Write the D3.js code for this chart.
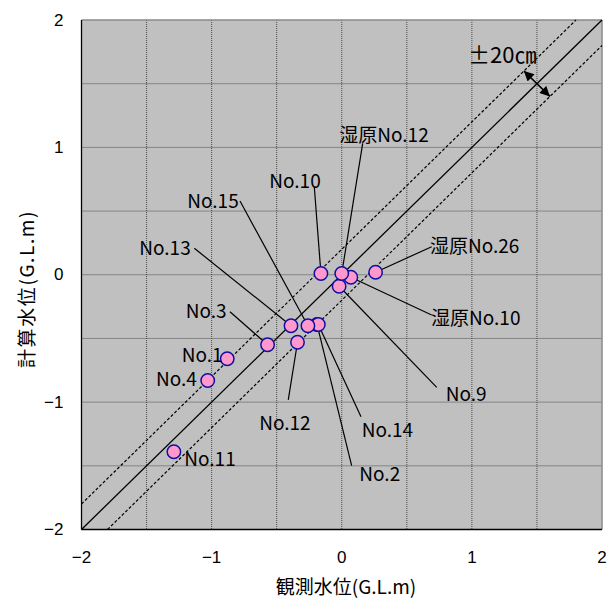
<!DOCTYPE html>
<html>
<head>
<meta charset="utf-8">
<script src="https://cdn.jsdelivr.net/npm/d3@7"></script>
<style>
  body { margin: 0; background: #fff; }
  .lbl { font-family: "Noto Sans CJK JP", "Noto Sans", sans-serif; font-size: 19px; fill: #000; }
  .tick { font-family: "Liberation Sans", Arial, sans-serif; font-size: 17px; fill: #000; }
</style>
</head>
<body>
<div id="chart"></div>
<script>
// station names and water levels (G.L.m)
const names    = ["No.1", "No.2", "No.3", "No.4", "No.9", "No.10", "No.11", "No.12", "No.13", "No.14", "No.15", "湿原No.10", "湿原No.12", "湿原No.26"];
const observed = [-0.88, -0.19, -0.57, -1.03, -0.02, -0.16, -1.29, -0.34, -0.39, -0.18, -0.26, 0.07, 0.00, 0.26];
const computed = [-0.66, -0.39, -0.55, -0.83, -0.09, 0.01, -1.39, -0.53, -0.40, -0.39, -0.40, -0.02, 0.01, 0.02];

// label anchors (data units): text left / middle, and start of leader line
const labelX = [-1.23, 0.135, -1.199, -1.427, 0.799, -0.557, -1.21, -0.634, -1.556, 0.153, -1.187, 0.686, -0.019, 0.678];
const labelY = [-0.622, -1.551, -0.269, -0.805, -0.926, 0.744, -1.433, -1.154, 0.220, -1.205, 0.587, -0.324, 1.110, 0.241];
const leadX  = [null, 0.076, -0.859, null, 0.730, -0.211, null, -0.411, -1.133, 0.148, -0.782, 0.691, 0.161, 0.691];
const leadY  = [null, -1.499, -0.290, null, -0.884, 0.691, null, -0.983, 0.208, -1.114, 0.579, -0.316, 1.032, 0.220];

const ticks = [-2, -1, 0, 1, 2];
const gridStep = 0.5;
const tolerance = 0.2;

const width = 616, height = 603;
const margin = {top: 20, right: 14, bottom: 73.5, left: 81.5};

const svg = d3.select("#chart").append("svg")
    .attr("width", width)
    .attr("height", height);

const x = d3.scaleLinear().domain([-2, 2]).range([margin.left, width - margin.right]);
const y = d3.scaleLinear().domain([-2, 2]).range([height - margin.bottom, margin.top]);

// markers for the double arrow
const defs = svg.append("defs");
["start", "end"].forEach(k => {
    defs.append("marker")
        .attr("id", "arrow-" + k)
        .attr("viewBox", "0 0 10 10")
        .attr("refX", k === "end" ? 10 : 0)
        .attr("refY", 5)
        .attr("markerWidth", 11)
        .attr("markerHeight", 10)
        .attr("markerUnits", "userSpaceOnUse")
        .attr("orient", "auto")
        .append("path")
        .attr("d", k === "end" ? "M0,0 L10,5 L0,10 Z" : "M10,0 L0,5 L10,10 Z")
        .attr("fill", "#000");
});

// plot background
svg.append("rect")
    .attr("x", x(-2)).attr("y", y(2))
    .attr("width", x(2) - x(-2)).attr("height", y(-2) - y(2))
    .attr("fill", "#c0c0c0");

// grid
const gridVals = d3.range(-2 + gridStep, 2, gridStep);
svg.append("g").selectAll("line.v").data(gridVals).enter().append("line")
    .attr("x1", d => x(d)).attr("x2", d => x(d))
    .attr("y1", y(2)).attr("y2", y(-2))
    .attr("stroke", "#4a4a4a").attr("stroke-width", 1)
    .attr("stroke-dasharray", "1,1");
svg.append("g").selectAll("line.h").data(gridVals).enter().append("line")
    .attr("y1", d => y(d)).attr("y2", d => y(d))
    .attr("x1", x(-2)).attr("x2", x(2))
    .attr("stroke", "#4a4a4a").attr("stroke-width", 1)
    .attr("stroke-dasharray", "1,1");

// frame: top / right gray, left / bottom black
svg.append("line").attr("x1", x(-2)).attr("x2", x(2)).attr("y1", y(2)).attr("y2", y(2))
    .attr("stroke", "#8a8a8a").attr("stroke-width", 1.5);
svg.append("line").attr("x1", x(2)).attr("x2", x(2)).attr("y1", y(2)).attr("y2", y(-2))
    .attr("stroke", "#8a8a8a").attr("stroke-width", 1.5);
svg.append("line").attr("x1", x(-2)).attr("x2", x(-2)).attr("y1", y(2)).attr("y2", y(-2))
    .attr("stroke", "#000").attr("stroke-width", 1.3);
svg.append("line").attr("x1", x(-2)).attr("x2", x(2)).attr("y1", y(-2)).attr("y2", y(-2))
    .attr("stroke", "#000").attr("stroke-width", 1.3);

// 1:1 line and +-20cm lines
const clip = v => Math.max(-2, Math.min(2, v));
svg.append("line")
    .attr("x1", x(-2)).attr("y1", y(-2)).attr("x2", x(2)).attr("y2", y(2))
    .attr("stroke", "#000").attr("stroke-width", 1.3);
[tolerance, -tolerance].forEach(o => {
    const x0 = clip(-2 - o), x1 = clip(2 - o);
    svg.append("line")
        .attr("x1", x(x0)).attr("y1", y(x0 + o))
        .attr("x2", x(x1)).attr("y2", y(x1 + o))
        .attr("stroke", "#000").attr("stroke-width", 1.2)
        .attr("stroke-dasharray", "3,2");
});

// +-20cm arrow
svg.append("line")
    .attr("x1", x(1.4)).attr("y1", y(1.6))
    .attr("x2", x(1.6)).attr("y2", y(1.4))
    .attr("stroke", "#000").attr("stroke-width", 1.6)
    .attr("marker-start", "url(#arrow-start)")
    .attr("marker-end", "url(#arrow-end)");
svg.append("text").attr("class", "lbl")
    .attr("x", x(0.97)).attr("y", y(1.74))
    .attr("dominant-baseline", "central")
    .style("font-size", "22px")
    .text("±20㎝");

// tick labels
svg.append("g").selectAll("text").data(ticks).enter().append("text")
    .attr("class", "tick")
    .attr("x", x(-2) - 18)
    .attr("y", d => y(d))
    .attr("text-anchor", "end")
    .attr("dominant-baseline", "central")
    .text(d => d < 0 ? "−" + Math.abs(d) : d);
svg.append("g").selectAll("text").data(ticks).enter().append("text")
    .attr("class", "tick")
    .attr("x", d => x(d))
    .attr("y", y(-2) + 33)
    .attr("text-anchor", "middle")
    .text(d => d < 0 ? "−" + Math.abs(d) : d);

// axis titles
svg.append("text").attr("class", "lbl")
    .attr("x", 346).attr("y", 594)
    .attr("text-anchor", "middle")
    .text("観測水位(G.L.m)");
svg.append("text").attr("class", "lbl")
    .attr("transform", "translate(25,289) rotate(-90)")
    .attr("text-anchor", "middle")
    .attr("dominant-baseline", "central")
    .style("letter-spacing", "1.6px")
    .text("計算水位(G.L.m)");

// leader lines
const idx = d3.range(names.length);
svg.append("g").selectAll("line").data(idx.filter(i => leadX[i] !== null)).enter().append("line")
    .attr("x1", i => x(leadX[i])).attr("y1", i => y(leadY[i]))
    .attr("x2", i => x(observed[i])).attr("y2", i => y(computed[i]))
    .attr("stroke", "#000").attr("stroke-width", 1.2);

// points
svg.append("g").selectAll("circle").data(idx).enter().append("circle")
    .attr("cx", i => x(observed[i]))
    .attr("cy", i => y(computed[i]))
    .attr("r", 6.7)
    .attr("fill", "#ff99cc")
    .attr("stroke", "#1010a0")
    .attr("stroke-width", 1.5);

// labels
svg.append("g").selectAll("text").data(idx).enter().append("text")
    .attr("class", "lbl")
    .attr("x", i => x(labelX[i]))
    .attr("y", i => y(labelY[i]))
    .attr("dominant-baseline", "central")
    .text(i => names[i]);
</script>
</body>
</html>
